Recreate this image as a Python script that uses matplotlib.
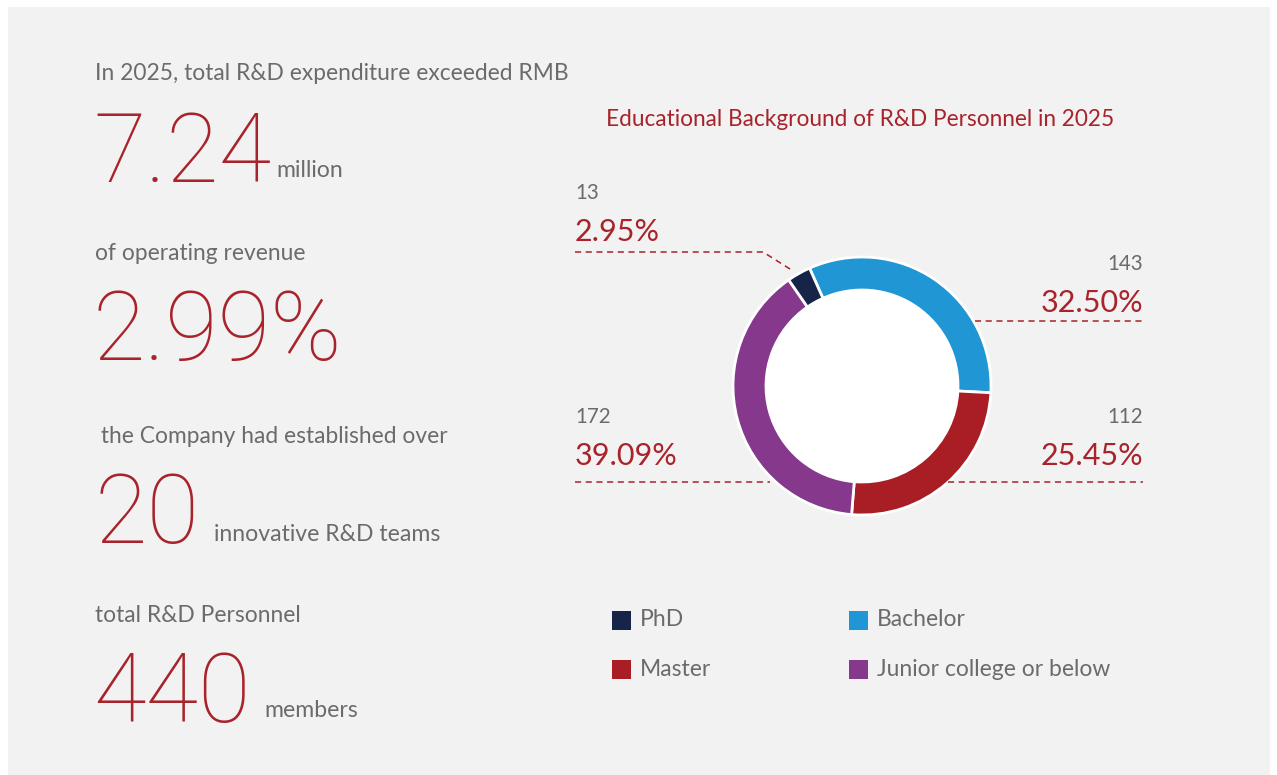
import numpy as np
import matplotlib
matplotlib.use("Agg")
import matplotlib.pyplot as plt
from matplotlib.patches import Rectangle

# data
categories = ["Bachelor", "Master", "Junior college or below", "PhD"]
counts = [143, 112, 172, 13]
colors = ["#2196d4", "#a81e24", "#85388c", "#172449"]
legend_order = ["PhD", "Bachelor", "Master", "Junior college or below"]

headline_labels = ["In 2025, total R&D expenditure exceeded RMB", "of operating revenue",
                   " the Company had established over", "total R&D Personnel"]
headline_values = ["7.24", "2.99%", "20", "440"]
headline_units = ["million", "", "innovative R&D teams", "members"]

title = "Educational Background of R&D Personnel in 2025"

W, H = 1277, 775
RED = "#a8232b"
GRAY = "#6b6b6b"
FONT = "Lato"
BIG_FONT = "Roboto"


def fx(x):
    return x / W


def fy(y):
    return 1 - y / H


fig = plt.figure(figsize=(W / 100, H / 100), dpi=100)
fig.patch.set_facecolor("white")
fig.patches.append(Rectangle((fx(8), 0), fx(1270) - fx(8), fy(7), transform=fig.transFigure,
                             facecolor="#f1f2f1", edgecolor="none", zorder=-5))

# left column of key figures
label_y = [74, 254, 436, 615]
value_pos = [(93, 182), (93, 360), (95, 543), (93, 722)]
unit_pos = [(276, 177), None, (214, 541), (264, 717)]
for lab, ly, val, (vx, vy), unit, up in zip(headline_labels, label_y, headline_values,
                                           value_pos, headline_units, unit_pos):
    fig.text(fx(95), fy(ly), lab, color=GRAY, fontsize=16.4, family=FONT, va="center")
    fig.text(fx(vx), fy(vy), val, color=RED, fontsize=69, family=BIG_FONT, weight="light",
             va="baseline")
    if unit:
        fig.text(fx(up[0]), fy(up[1]), unit, color=GRAY, fontsize=16.6, family=FONT,
                 va="baseline")

# donut
cx, cy, R = 862, 386, 129
pad = 136
ax = fig.add_axes([fx(cx - pad), fy(cy + pad), (2 * pad) / W, (2 * pad) / H])
startangle = 114
wedges, _ = ax.pie(counts, colors=colors, startangle=startangle, counterclock=False,
                   radius=1, wedgeprops=dict(width=33 / 129, edgecolor="white", linewidth=2))
ax.add_patch(plt.Circle((0, 0), 1 - 33 / 129, color="white", zorder=0))
ax.set_xlim(-pad / R, pad / R)
ax.set_ylim(-pad / R, pad / R)
ax.set_aspect("equal")
ax.axis("off")

fig.text(fx(860), fy(119), title, color=RED, fontsize=16.3, family=FONT, ha="center",
         va="center")

total = sum(counts)
pct = {c: f"{v / total * 100:.2f}%" for c, v in zip(categories, counts)}
cnt = dict(zip(categories, counts))

# label layout: (count y, percent y, line y, side)
label_layout = {
    "PhD": (193, 232, 252, "left"),
    "Bachelor": (264, 303, 321, "right"),
    "Master": (417, 456, 482, "right"),
    "Junior college or below": (417, 456, 482, "left"),
}
line_spans = {
    "PhD": (575, 763),
    "Bachelor": (975, 1143),
    "Master": (948, 1143),
    "Junior college or below": (575, 770),
}
for cat, (ny, py, ly, side) in label_layout.items():
    x = 575 if side == "left" else 1143
    ha = "left" if side == "left" else "right"
    fig.text(fx(x), fy(ny), str(cnt[cat]), color=GRAY, fontsize=14.8, family=FONT, ha=ha,
             va="center")
    fig.text(fx(x), fy(py), pct[cat], color=RED, fontsize=22, family=FONT, ha=ha,
             va="center")
    x0, x1 = line_spans[cat]
    xs, ys = [fx(x0), fx(x1)], [fy(ly), fy(ly)]
    if cat == "PhD":
        w = wedges[categories.index("PhD")]
        mid = np.deg2rad((w.theta1 + w.theta2) / 2)
        ex = cx + R * 1.02 * np.cos(mid) - 4
        ey = cy - R * 1.02 * np.sin(mid)
        xs.append(fx(ex))
        ys.append(fy(ey))
    fig.add_artist(plt.Line2D(xs, ys, transform=fig.transFigure, color=RED, lw=1.1,
                              ls=(0, (4, 3))))

# legend
leg_pos = {"PhD": (612, 620), "Bachelor": (849, 620), "Master": (612, 669),
           "Junior college or below": (849, 669)}
sq = 19
for cat in legend_order:
    x, y = leg_pos[cat]
    fig.patches.append(Rectangle((fx(x), fy(y + sq / 2)), sq / W, sq / H,
                                 transform=fig.transFigure,
                                 facecolor=colors[categories.index(cat)], edgecolor="none"))
    fig.text(fx(x + 28), fy(y), cat, color=GRAY, fontsize=16.5, family=FONT, va="center")

fig.savefig("out.png", dpi=100)
